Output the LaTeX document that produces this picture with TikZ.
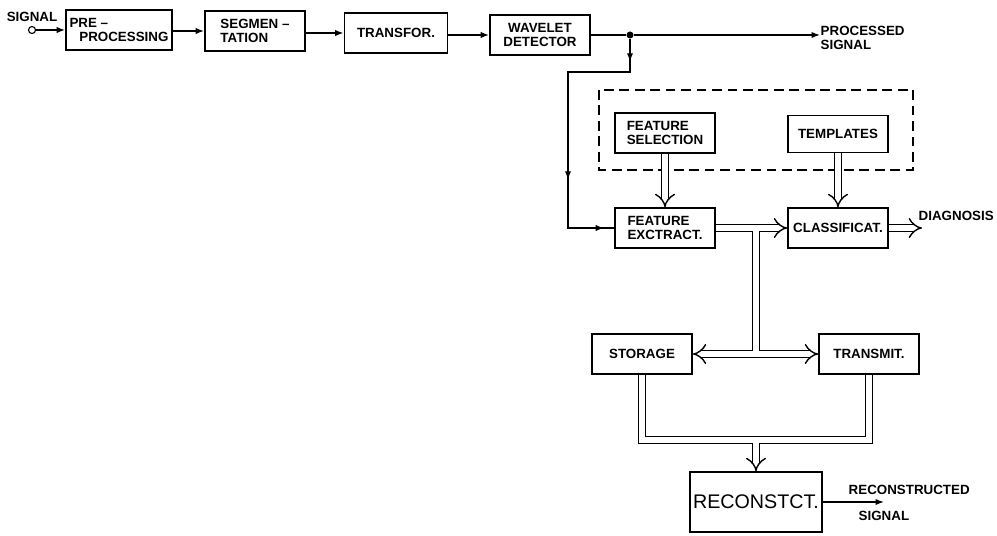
\documentclass[tikz,border=0pt]{standalone}
\usepackage{fontspec}
\setmainfont{Liberation Sans}
\usetikzlibrary{arrows.meta,decorations.markings}
\tikzset{
  box/.style={draw, line width=1.2pt, inner sep=2pt, minimum width=2.5cm, minimum height=1cm,
    font=\fontsize{9.5}{10.5}\selectfont\bfseries},
  lbl/.style={inner sep=0pt, align=left, font=\fontsize{9.5}{10.5}\selectfont\bfseries},
  port/.style={circle, draw, line width=0.8pt, fill=white, inner sep=0pt, minimum size=5pt},
  dot/.style={circle, fill, inner sep=0pt, minimum size=5pt},
  dblline/.style={double, double distance=4pt, line width=1pt},
  dbl/.style={dblline, -{Implies}},
}
\begin{document}
\begin{tikzpicture}[x=0.025cm, y=-0.025cm, line width=1pt, >={Latex[length=6pt,width=4.5pt]}]
\useasboundingbox (0,0) rectangle (997,535);
\node[box, align=left, minimum width=2.65cm] (pre) at (119,30) {PRE --\\\hspace{7pt}PROCESSING};
\node[box, align=left] (seg) at (255,31) {SEGMEN --\\TATION};
\node[box, minimum width=2.58cm] (trf) at (396,33) {TRANSFOR.};
\node[box, align=center] (wav) at (540,35) {WAVELET\\DETECTOR};
\node[lbl] (sig) at (32,17) {SIGNAL};
\node[port] (in) at (32,30) {};
\node[dot] (j) at (630,35) {};
\node[lbl, anchor=west] (proc) at (820,38) {PROCESSED\\SIGNAL};
\coordinate (k) at (568,72);
\draw[dashed, dash pattern=on 7pt off 4pt, line width=1.2pt] (599,90) rectangle (913,170);
\node[box, align=left] (fsel) at (665,133) {FEATURE\\SELECTION};
\node[box, minimum height=0.93cm] (tmp) at (838,134) {TEMPLATES};
\node[box, align=left] (fext) at (665,228) {FEATURE\\EXCTRACT.};
\node[box] (cls) at (838,228) {CLASSIFICAT.};
\coordinate (dg) at (922,228);
\node[lbl, anchor=west] (diag) at (918,216) {DIAGNOSIS};
\node[box, align=left] (sto) at (642,354) {STORAGE};
\node[box] (tra) at (869,354) {TRANSMIT.};
\coordinate (t1) at (756,228);
\coordinate (t2) at (756,354);
\coordinate (m) at (756,440);
\node[box, minimum width=3.3cm, minimum height=1.5cm, font=\fontsize{14}{16}\selectfont] (rec) at (756,502) {RECONSTCT.};
\coordinate (ro) at (884,502);
\node[lbl, anchor=west] (rl1) at (848,490) {RECONSTRUCTED};
\node[lbl, anchor=west] (rl2) at (858,516) {SIGNAL};

\draw[->] (in) -- (in -| pre.west);
\draw[->] (pre.east |- seg) -- (seg.west);
\draw[->] (seg.east |- trf) -- (trf.west);
\draw[->] (trf.east |- wav) -- (wav.west);
\draw (wav.east) -- (j);
\draw[->] (j) -- (proc.west |- j);
\draw[postaction={decorate}, decoration={markings,
  mark=at position 16pt with {\arrow{>}},
  mark=at position 144pt with {\arrow{>}},
  mark=at position 204pt with {\arrow{>}}}] (j) |- (k) |- (fext.west);
\draw[dbl] (fsel) -- (fext);
\draw[dbl] (tmp) -- (cls);
\draw[dbl] (fext) -- (cls);
\draw[dbl] (cls) -- (dg);
\draw[dblline, {Implies}-{Implies}] (sto) -- (tra);
\draw[dblline] ([yshift=-2pt]t1) -- ([yshift=2pt]t2);
\draw[dblline] (sto) |- (m) -| (tra);
\draw[dbl] ([yshift=-2pt]m) -- (rec);
\draw[->] (rec) -- (ro);
\end{tikzpicture}
\end{document}
